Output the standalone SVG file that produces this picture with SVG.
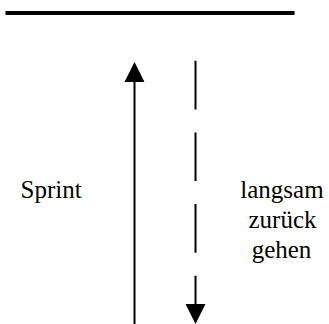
<svg xmlns="http://www.w3.org/2000/svg" width="329" height="324" viewBox="0 0 329 324">
<style>
.ln{stroke:#000;stroke-width:2;fill:none}
.head{fill:#000;stroke:none}
</style>
<rect width="329" height="324" fill="#fff"/>
<g id="connectors">
<line x1="5.5" y1="13" x2="294.5" y2="13" stroke="#000" stroke-width="4"/>
<line class="ln" x1="134.5" y1="324" x2="134.5" y2="80"/>
<polygon class="head" points="134.5,62 124.5,82 144.5,82"/>
<line class="ln" x1="195.5" y1="60.7" x2="195.5" y2="306" stroke-dasharray="48.7 23"/>
<polygon class="head" points="185.5,304 205.5,304 195.5,324"/>
</g>
<g id="sprint"><text x="20.5" y="197.5" font-family="Liberation Serif" font-size="25">Sprint</text></g>
<g id="langsam"><text font-family="Liberation Serif" font-size="25" text-anchor="middle" x="282" y="197.5">langsam</text><text font-family="Liberation Serif" font-size="25" text-anchor="middle" x="282.5" y="228.3">zurück</text><text font-family="Liberation Serif" font-size="25" text-anchor="middle" x="281.5" y="258.3">gehen</text></g>
</svg>
